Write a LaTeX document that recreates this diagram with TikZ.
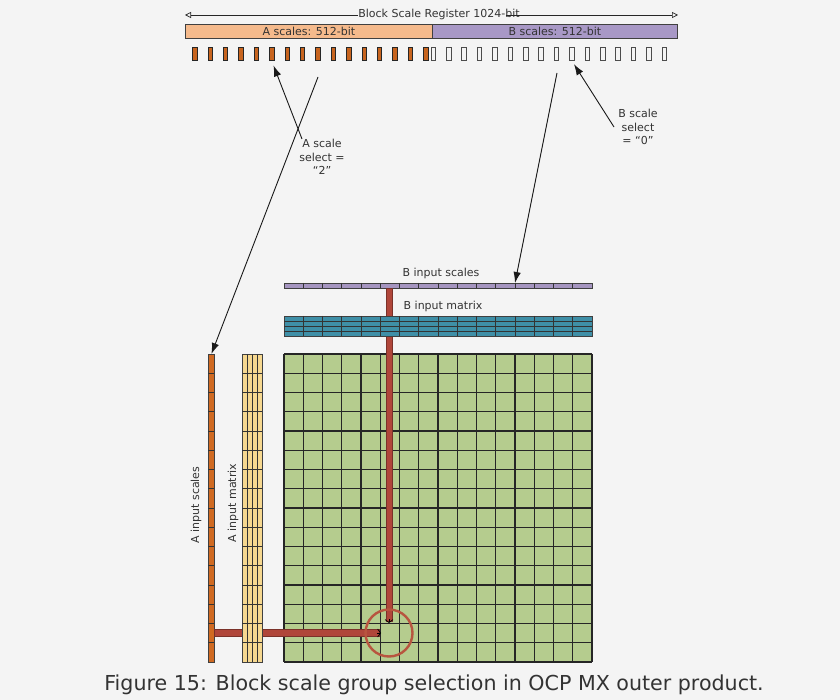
\documentclass[tikz,border=0pt]{standalone}
\usepackage{fontspec}
\setmainfont{DejaVu Sans}
\usetikzlibrary{arrows.meta,calc}
\definecolor{bg}{HTML}{F4F4F4}
\definecolor{peach}{HTML}{F5BA8C}
\definecolor{purp}{HTML}{A898C6}
\definecolor{tickor}{HTML}{C8641E}
\definecolor{lilac}{HTML}{A595C0}
\definecolor{teal}{HTML}{3F8FA7}
\definecolor{grn}{HTML}{B5CC8E}
\definecolor{aor}{HTML}{D06A22}
\definecolor{ayel}{HTML}{F6D890}
\definecolor{stripe}{HTML}{B0463A}
\definecolor{ring}{HTML}{B8553F}
\definecolor{txt}{HTML}{333333}
\tikzset{
  barbox/.style={draw=black!75, line width=0.8pt, inner sep=0, anchor=north west},
  tickA/.style={draw=black!85, fill=tickor, minimum width=4.5pt, minimum height=13pt, inner sep=0, line width=0.6pt},
  tickB/.style={draw=black!70, fill=bg, minimum width=4.5pt, minimum height=13pt, inner sep=0, line width=0.6pt},
  gline/.style={draw=black!85, line width=1.3pt},
  tline/.style={draw=black!80, line width=0.6pt},
  ptr/.style={draw=black!90, line width=0.9pt, -{Latex[length=11pt,width=7.5pt]}},
  regarrow/.style={draw=black!85, line width=0.7pt, -{Triangle[open,length=6pt,width=6pt]}},
  lbl/.style={text=txt, font=\fontsize{11}{13.5}\selectfont, inner sep=0.5pt},
  stripebar/.style={fill=stripe, draw=stripe!70!black, line width=0.5pt},
  stripetip/.style={draw=black, line width=0.7pt, -{Straight Barb[length=3pt,width=8pt]}}
}
\begin{document}
\begin{tikzpicture}[x=1pt,y=-1pt]
\useasboundingbox[fill=bg] (0,0) rectangle (840,700);

% ---- register ----
\node[lbl] (reg) at (439,14) {Block Scale Register 1024-bit};
\coordinate (regL) at (185,15);
\coordinate (regR) at (678,15);
\draw[regarrow] (reg.west |- regL) -- (regL);
\draw[regarrow] ($(reg.east |- regR)+(-14,0)$) -- (regR);

\node[barbox, fill=peach, minimum width=247pt, minimum height=14pt] (abar) at (185,24) {};
\node[lbl] at (abar.center) {A scales: 512-bit};
\node[barbox, fill=purp, minimum width=245pt, minimum height=14pt] (bbar) at (432,24) {};
\node[lbl] at (bbar.center) {B scales: 512-bit};

% ---- ticks ----
\foreach \i in {0,...,15} {
  \node[tickA] (ta\i) at ({194.7+\i*15.4},54) {};
  \node[tickB] (tb\i) at ({433.2+\i*15.4},54) {};
}

% ---- labels for select ----
\node[lbl, align=center] (asel) at (322,157) {A scale\\select =\\“2”};
\node[lbl, align=center] (bsel) at (638,127) {B scale\\select\\= “0”};

% ---- big grid C ----
\node[barbox, draw=none, fill=grn, minimum width=308pt, minimum height=308pt] (C) at (284,354) {};
\foreach \i in {0,...,16} {
  \draw[gline] ({284+\i*19.25},354) -- ({284+\i*19.25},662);
  \draw[gline] (284,{354+\i*19.25}) -- (592,{354+\i*19.25});
}

% ---- B input scales ----
\node[barbox, fill=lilac, minimum width=308pt, minimum height=5pt] (bsc) at (284,283) {};
\foreach \i in {1,...,15} \draw[tline] ({284+\i*19.25},283) -- ({284+\i*19.25},288);
\node[lbl] (bsclbl) at (441,273) {B input scales};

% ---- A input scales ----
\node[barbox, fill=aor, minimum width=6pt, minimum height=308pt] (asc) at (208,354) {};
\foreach \i in {1,...,15} \draw[tline] (208,{354+\i*19.25}) -- (214,{354+\i*19.25});
\node[lbl, rotate=90] (asclbl) at (196,505) {A input scales};

% ---- stripes ----
\coordinate (vS) at (389,288);
\coordinate (vE) at (389,621);
\coordinate (hS) at (214,633);
\coordinate (hE) at (379,633);
\path[stripebar] ($(vS)+(-3.2,0)$) rectangle ($(vE)+(3.2,0)$);
\path[stripebar] ($(hS)+(0,-3.5)$) rectangle ($(hE)+(0,3.5)$);
\draw[stripetip] ($(vE)+(0,-2)$) -- ($(vE)+(0,2)$);
\draw[stripetip] ($(hE)+(-2,0)$) -- ($(hE)+(2,0)$);

% ---- B input matrix ----
\node[barbox, fill=teal, minimum width=308pt, minimum height=20pt] (bmat) at (284,316) {};
\foreach \i in {1,...,15} \draw[tline, line width=0.9pt] ({284+\i*19.25},316) -- ({284+\i*19.25},336);
\foreach \j in {1,2,3} \draw[tline] (284,{316+\j*5}) -- (592,{316+\j*5});
\node[lbl] (bmatlbl) at (443,306) {B input matrix};

% ---- A input matrix ----
\node[barbox, fill=ayel, minimum width=20pt, minimum height=308pt] (amat) at (242,354) {};
\foreach \i in {1,...,15} \draw[tline, line width=0.9pt] (242,{354+\i*19.25}) -- (262,{354+\i*19.25});
\foreach \j in {1,2,3} \draw[tline] ({242+\j*5},354) -- ({242+\j*5},662);
\node[lbl, rotate=90] (amatlbl) at (233,503) {A input matrix};

% ---- selection ring ----
\node[circle, draw=ring, line width=2.4pt, minimum size=47pt, inner sep=0] (ring) at (389,633) {};

% ---- pointers ----
\coordinate (aselT) at (302,139);
\coordinate (bselT) at (614,127);
\draw[ptr, shorten >=5pt] (aselT) -- (ta5.south);
\draw[ptr, shorten >=4pt] (bselT) -- (tb9.south);
\coordinate (a8) at (318,77);
\coordinate (b8) at (557,73);
\coordinate (bscHit) at (515,283);
\draw[ptr] (a8) -- (asc.north);
\draw[ptr] (b8) -- (bscHit);

% ---- caption ----
\node[text=txt, font=\fontsize{20.6}{23}\selectfont] (cap) at (434,685) {Figure 15: Block scale group selection in OCP MX outer product.};
\end{tikzpicture}
\end{document}
